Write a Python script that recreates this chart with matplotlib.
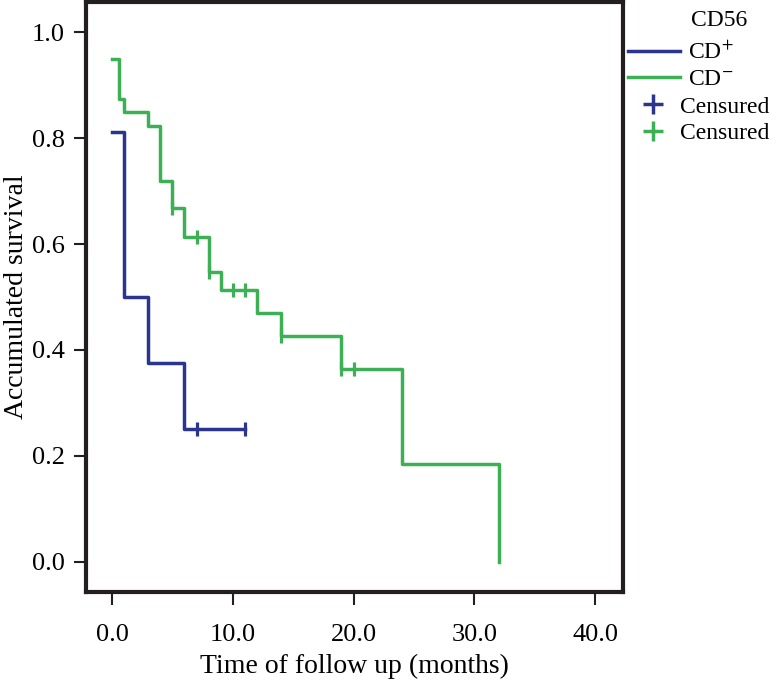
import numpy as np
import matplotlib
matplotlib.use('Agg')
from matplotlib import pyplot as plt
from matplotlib.lines import Line2D

plt.rcParams['font.family'] = ['Liberation Serif', 'DejaVu Serif']
plt.rcParams['mathtext.fontset'] = 'stix'

# Curvas de Kaplan-Meier
t_pos = [0, 1, 3, 6, 11]
s_pos = [0.8125, 0.5, 0.375, 0.25, 0.25]
cens_pos = [7, 11]

t_neg = [0, 0.6, 1, 3, 4, 5, 6, 8, 9, 12, 14, 19, 24, 32]
s_neg = [0.95, 0.873, 0.849, 0.823, 0.719, 0.668, 0.613, 0.547, 0.513,
         0.47, 0.426, 0.364, 0.185, 0.0]
cens_neg = [5, 7, 8, 10, 11, 14, 19, 20]

x_ticks = [0, 10, 20, 30, 40]
y_ticks = [0.0, 0.2, 0.4, 0.6, 0.8, 1.0]

blue = '#2b3590'
green = '#3daf55'


def surv_at(t, times, surv):
    # valor de la funcion escalonada en t
    idx = np.searchsorted(times, t, side='right') - 1
    return np.array(surv)[idx]


fig = plt.figure(figsize=(7.71, 6.84), dpi=100)
ax = fig.add_axes([0.1115, 0.1345, 0.6965, 0.8625])

ax.step(t_pos, s_pos, where='post', color=blue, lw=2.5)
ax.step(t_neg, s_neg, where='post', color=green, lw=2.5)
ax.plot(cens_pos, surv_at(cens_pos, t_pos, s_pos), ls='none', marker='|',
        ms=10, mew=2.3, color=blue)
ax.plot(cens_neg, surv_at(cens_neg, t_neg, s_neg), ls='none', marker='|',
        ms=10, mew=2.3, color=green)

ax.set_xlim(-2.15, 42.3)
ax.set_ylim(-0.057, 1.057)
ax.set_xticks(x_ticks)
ax.set_xticklabels(['%.1f' % v for v in x_ticks])
ax.set_yticks(y_ticks)
ax.set_yticklabels(['%.1f' % v for v in y_ticks])

for sp in ax.spines.values():
    sp.set_linewidth(3.0)
    sp.set_color('#231f20')
ax.tick_params(axis='both', length=9, width=1.5, color='#231f20',
               labelsize=19)
ax.tick_params(axis='x', pad=14)
ax.tick_params(axis='y', pad=6)

ax.set_xlabel('Time of follow up (months)', fontsize=20, labelpad=6)
ax.set_ylabel('Accumulated survival', fontsize=20, labelpad=2)

# leyenda: titulo, lineas y marcas de censura por separado
fig.text(719 / 771, 1 - 20 / 684, 'CD56', fontsize=17, ha='center',
         va='center')

h_lines = [Line2D([], [], color=blue, lw=2.5),
           Line2D([], [], color=green, lw=2.5)]
leg1 = ax.legend(h_lines, ['CD$^{+}$', 'CD$^{-}$'], loc='center left',
                 bbox_to_anchor=(628 / 771, 1 - 66 / 684),
                 bbox_transform=fig.transFigure, frameon=False, fontsize=17,
                 handlelength=2.2, handletextpad=0.34, labelspacing=0.2,
                 borderaxespad=0.0, borderpad=0.0)
ax.add_artist(leg1)

h_cens = [Line2D([], [], ls='none', marker='+', ms=14, mew=2.5, color=blue),
          Line2D([], [], ls='none', marker='+', ms=14, mew=2.5, color=green)]
leg2 = ax.legend(h_cens, ['Censured', 'Censured'], loc='center left',
                 bbox_to_anchor=(628 / 771, 1 - 120 / 684),
                 bbox_transform=fig.transFigure, frameon=False, fontsize=17,
                 handlelength=2.12, handletextpad=0.1, labelspacing=0.2,
                 borderaxespad=0.0, borderpad=0.0)

fig.savefig('out.png', dpi=100)
